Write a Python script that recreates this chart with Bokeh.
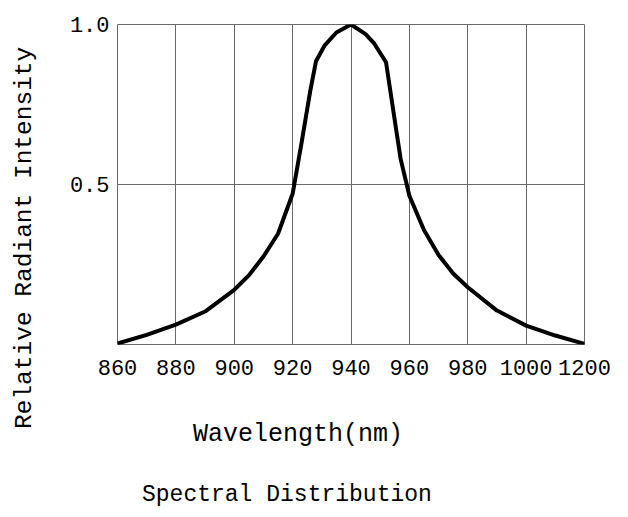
from bokeh.plotting import figure
from bokeh.models import (Range1d, FixedTicker, Title, PrintfTickFormatter,
                          LinearAxis, CustomJSTickFormatter)
from bokeh.embed import file_html
from bokeh.resources import INLINE

# ---- data ----
wavelength_nm = [860, 870, 880, 890, 900, 905, 910, 915, 920, 923, 926, 928,
                 931, 935, 940, 945, 948, 952, 955, 957, 960, 965, 970, 975,
                 980, 990, 1000, 1010, 1020]
relative_intensity = [0.003, 0.030, 0.062, 0.103, 0.171, 0.216, 0.275, 0.346,
                      0.471, 0.627, 0.790, 0.885, 0.935, 0.975, 1.000, 0.970,
                      0.940, 0.882, 0.700, 0.580, 0.465, 0.358, 0.280, 0.222,
                      0.179, 0.106, 0.059, 0.028, 0.002]

x_tick_values = [860, 880, 900, 920, 940, 960, 980, 1000, 1020]
x_tick_labels = ["860", "880", "900", "920", "940", "960", "980", "1000", "1200"]
y_tick_values = [0.5, 1.0]

y_axis_title = "Relative Radiant Intensity"
x_axis_title = "Wavelength(nm)"
chart_title = "Spectral Distribution"

# ---- styling ----
FONT = "Liberation Mono"
GRID = "#6a6a6a"

p = figure(width=620, height=512, output_backend="svg", toolbar_location=None,
           x_range=Range1d(860, 1020), y_range=Range1d(0, 1.0),
           min_border_left=117, min_border_right=36,
           min_border_top=24, min_border_bottom=168,
           background_fill_color="white", border_fill_color="white")

p.outline_line_color = GRID
p.outline_line_width = 1

# axes
p.xaxis.ticker = FixedTicker(ticks=x_tick_values)
p.xaxis.major_label_overrides = {int(v): t for v, t in zip(x_tick_values, x_tick_labels)}
p.yaxis.ticker = FixedTicker(ticks=y_tick_values)
p.yaxis.formatter = PrintfTickFormatter(format="%.1f")
for ax in (p.xaxis[0], p.yaxis[0]):
    ax.axis_line_color = None
    ax.major_tick_line_color = None
    ax.minor_tick_line_color = None
    ax.major_tick_out = 0
    ax.major_tick_in = 0
    ax.major_label_text_font = FONT
    ax.major_label_text_font_size = "22px"
    ax.major_label_text_color = "black"
p.xaxis.major_label_standoff = 15
p.yaxis.major_label_standoff = 8

# invisible spacer axis (no lines, empty labels) that only reserves room on the left
spacer = LinearAxis(ticker=FixedTicker(ticks=y_tick_values[:1]),
                    formatter=CustomJSTickFormatter(code="return ''"),
                    axis_line_color=None,
                    major_tick_line_color=None, minor_tick_line_color=None,
                    major_tick_out=27, major_tick_in=0, major_label_standoff=0)
p.add_layout(spacer, "left")

# grid
p.xgrid.ticker = FixedTicker(ticks=x_tick_values)
p.ygrid.ticker = FixedTicker(ticks=y_tick_values)
for g in (p.xgrid[0], p.ygrid[0]):
    g.grid_line_color = GRID
    g.grid_line_width = 1
    g.grid_line_alpha = 1.0

# curve
p.line(wavelength_nm, relative_intensity, line_width=4, line_color="black",
       line_join="round", line_cap="round")

# titles (placed in the side panels so they are not clipped)
def make_title(text, size, offset, standoff, valign):
    return Title(text=text, align="left", offset=offset, standoff=standoff,
                 vertical_align=valign,
                 text_font=FONT, text_font_size=size,
                 text_font_style="normal", text_color="black")

p.add_layout(make_title(y_axis_title, "24.5px", -84.5, 4, "bottom"), "left")
p.add_layout(make_title(x_axis_title, "25px", 75.5, 85, "top"), "below")
p.add_layout(make_title(chart_title, "23px", 24.5, -28, "bottom"), "below")

open("out.html", "w").write(file_html(p, INLINE))
